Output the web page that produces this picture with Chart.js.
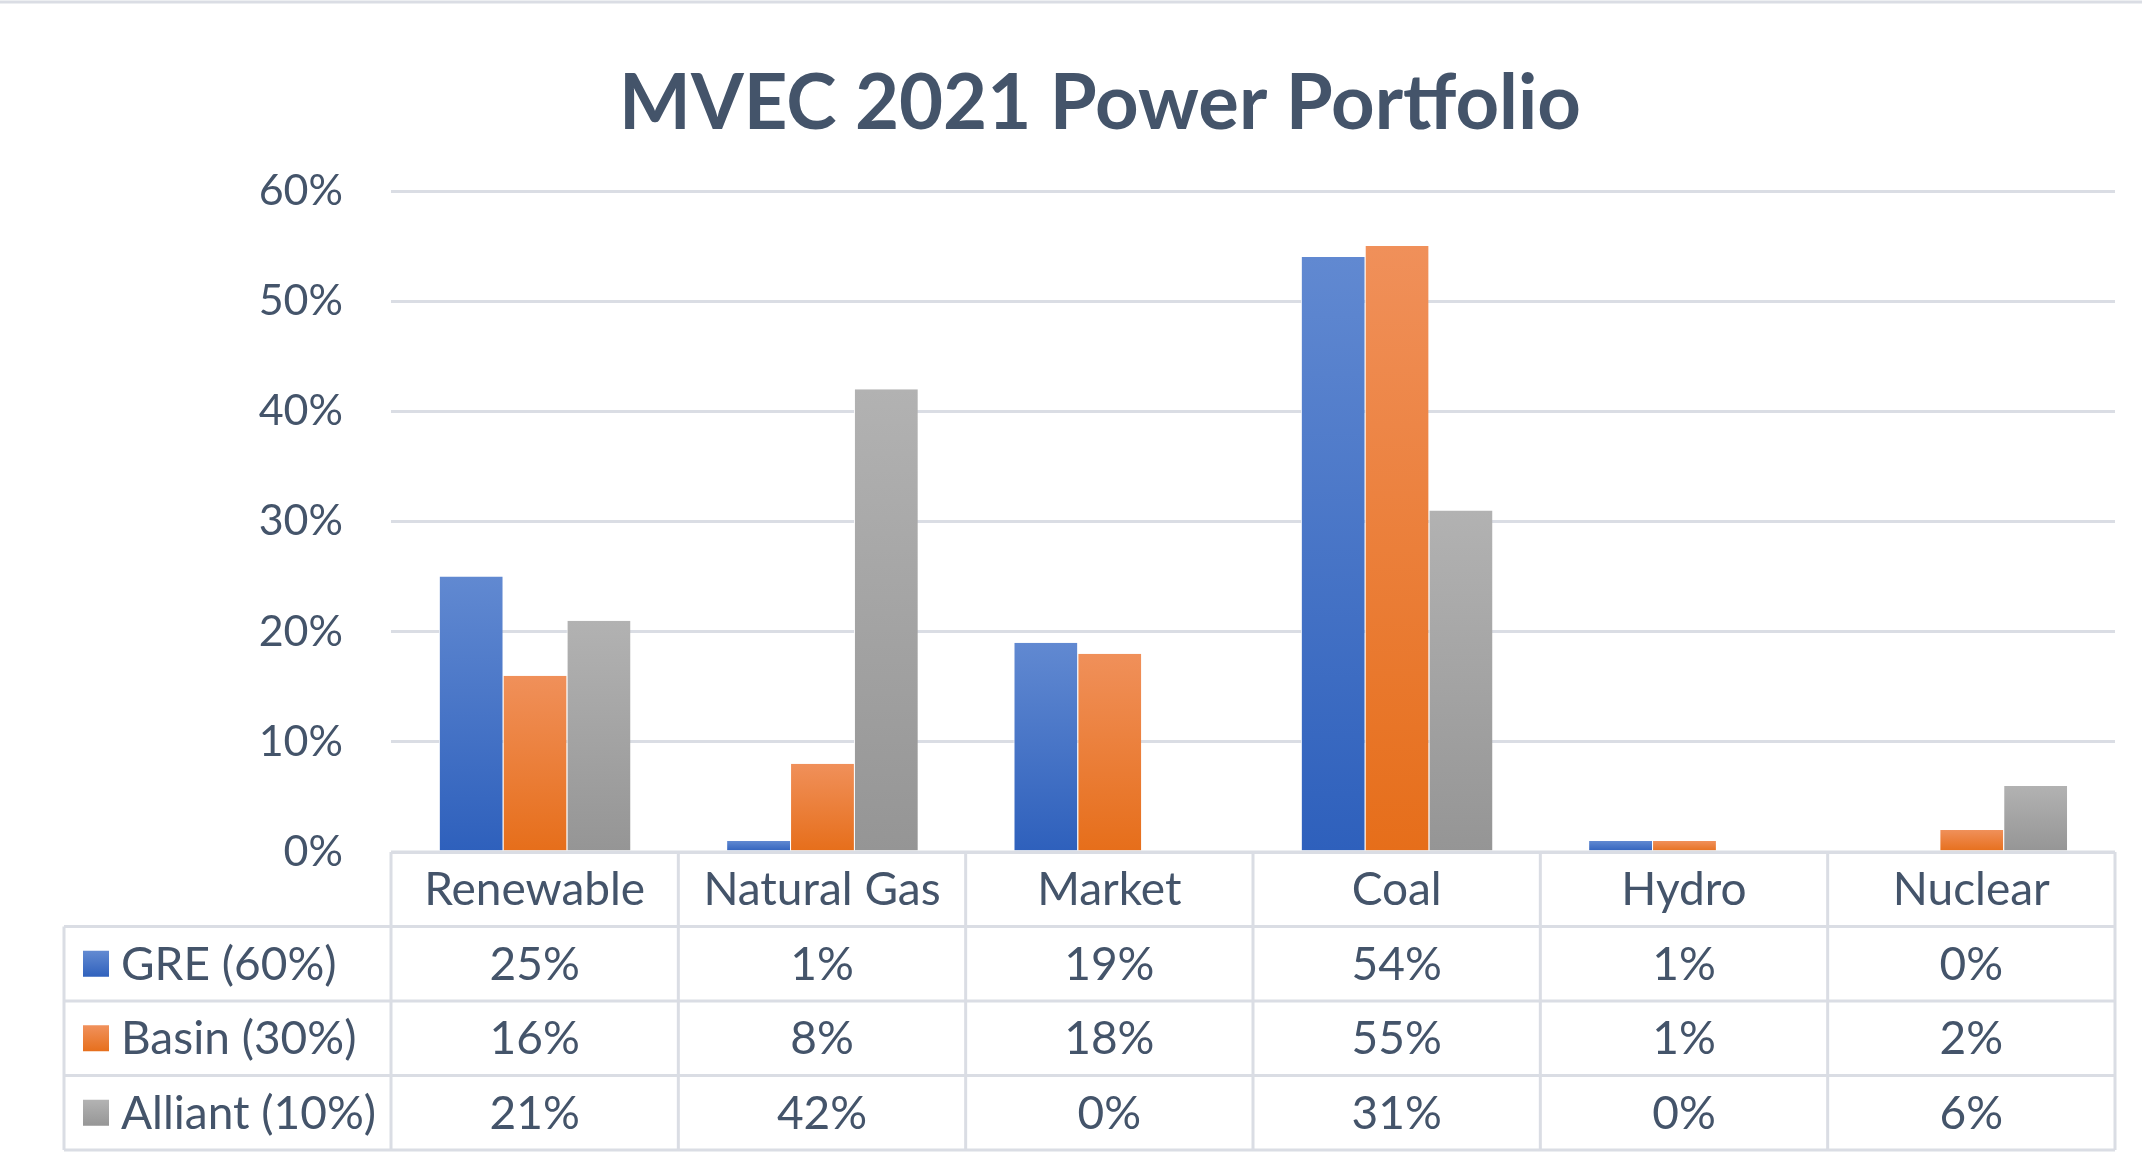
<!DOCTYPE html>
<html>
<head>
<meta charset="utf-8">
<title>MVEC 2021 Power Portfolio</title>
<script src="https://cdn.jsdelivr.net/npm/chart.js@4.4.1/dist/chart.umd.min.js"></script>
<style>
  html, body { margin: 0; padding: 0; background: #fff; }
  #wrap { width: 2142px; height: 1167px; }
</style>
</head>
<body>
<div id="wrap"><canvas id="portfolioChart" width="2142" height="1167"></canvas></div>
<script>
// datos
const chartTitle = 'MVEC 2021 Power Portfolio';
const categories = ['Renewable', 'Natural Gas', 'Market', 'Coal', 'Hydro', 'Nuclear'];
const seriesNames = ['GRE (60%)', 'Basin (30%)', 'Alliant (10%)'];
const greValues = [25, 1, 19, 54, 1, 0];
const basinValues = [16, 8, 18, 55, 1, 2];
const alliantValues = [21, 42, 0, 31, 0, 6];
const yTicks = [0, 10, 20, 30, 40, 50, 60];

const textColor = '#44546A';
const lineColor = '#DADDE4';
const fontFamily = 'Lato, "Open Sans", sans-serif';

// colores arriba / abajo para el degradado de cada barra
const seriesColors = [
  { top: '#6189D1', bottom: '#2E60BC' },
  { top: '#F0905A', bottom: '#E66E1A' },
  { top: '#B2B2B2', bottom: '#959595' }
];

function barGradient(colors) {
  return function (ctx) {
    const chart = ctx.chart;
    if (!chart.chartArea || ctx.raw === undefined) return colors.bottom;
    const y = chart.scales.y;
    const yTop = y.getPixelForValue(ctx.raw);
    const yBase = y.getPixelForValue(0);
    if (yBase - yTop < 1) return colors.bottom;
    const g = chart.ctx.createLinearGradient(0, yTop, 0, yBase);
    g.addColorStop(0, colors.top);
    g.addColorStop(1, colors.bottom);
    return g;
  };
}

// fondo, linea superior del marco y titulo
const framePlugin = {
  id: 'frame',
  beforeDraw(chart) {
    const c = chart.ctx;
    c.save();
    c.fillStyle = '#fff';
    c.fillRect(0, 0, chart.width, chart.height);
    c.strokeStyle = lineColor;
    c.lineWidth = 3;
    c.beginPath();
    c.moveTo(0, 2);
    c.lineTo(chart.width, 2);
    c.stroke();

    c.fillStyle = textColor;
    c.font = 'bold 76px ' + fontFamily;
    c.textAlign = 'center';
    c.textBaseline = 'middle';
    c.fillText(chartTitle, 1100, 104);
    c.restore();
  }
};

// tabla de datos debajo del grafico
const tablePlugin = {
  id: 'dataTable',
  afterDraw(chart) {
    const c = chart.ctx;
    const x = chart.scales.x;
    const area = chart.chartArea;
    const rowH = 74.5;
    const top = area.bottom;
    const left = 64;
    const colW = (x.right - x.left) / categories.length;
    const rows = [greValues, basinValues, alliantValues];

    c.save();
    c.strokeStyle = lineColor;
    c.lineWidth = 3;
    c.beginPath();
    // lineas horizontales
    c.moveTo(x.left, top);
    c.lineTo(x.right, top);
    for (let r = 1; r <= rows.length + 1; r++) {
      c.moveTo(left, top + r * rowH);
      c.lineTo(x.right, top + r * rowH);
    }
    // lineas verticales
    for (let i = 0; i <= categories.length; i++) {
      c.moveTo(x.left + i * colW, top);
      c.lineTo(x.left + i * colW, top + (rows.length + 1) * rowH);
    }
    c.moveTo(left, top + rowH);
    c.lineTo(left, top + (rows.length + 1) * rowH);
    c.stroke();

    c.fillStyle = textColor;
    c.font = '46px ' + fontFamily;
    c.textBaseline = 'middle';
    c.textAlign = 'center';
    categories.forEach((cat, i) => {
      c.fillText(cat, x.getPixelForValue(i), top + rowH / 2 + 1);
    });

    rows.forEach((vals, r) => {
      const yMid = top + (r + 1) * rowH + rowH / 2 + 1;
      vals.forEach((v, i) => {
        c.textAlign = 'center';
        c.fillStyle = textColor;
        c.fillText(v + '%', x.getPixelForValue(i), yMid);
      });
      // cuadro de leyenda
      const sq = 26;
      const g = c.createLinearGradient(0, yMid - sq / 2, 0, yMid + sq / 2);
      g.addColorStop(0, seriesColors[r].top);
      g.addColorStop(1, seriesColors[r].bottom);
      c.fillStyle = g;
      c.fillRect(83, yMid - sq / 2 - 1, sq, sq);
      c.textAlign = 'left';
      c.fillStyle = textColor;
      c.fillText(seriesNames[r], 121, yMid);
    });
    c.restore();
  }
};

const datasets = [greValues, basinValues, alliantValues].map((vals, i) => ({
  label: seriesNames[i],
  data: vals,
  backgroundColor: barGradient(seriesColors[i]),
  borderColor: '#ffffff',
  borderWidth: { left: 1, right: 0, top: 0, bottom: 0 },
  borderSkipped: false,
  categoryPercentage: 0.667,
  barPercentage: 1
}));

new Chart(document.getElementById('portfolioChart'), {
  type: 'bar',
  data: { labels: categories, datasets: datasets },
  options: {
    responsive: false,
    devicePixelRatio: 1,
    animation: false,
    layout: { padding: { top: 191, right: 27, bottom: 315, left: 0 } },
    plugins: {
      legend: { display: false },
      tooltip: { enabled: false },
      title: { display: false }
    },
    scales: {
      x: { display: false },
      y: {
        min: yTicks[0],
        max: yTicks[yTicks.length - 1],
        afterFit(scale) { scale.width = 391; },
        afterBuildTicks(scale) { scale.ticks = yTicks.map(v => ({ value: v })); },
        border: { display: false },
        grid: { color: lineColor, lineWidth: 3, drawTicks: false },
        ticks: {
          color: textColor,
          font: { family: fontFamily, size: 43 },
          padding: 48,
          callback: v => v + '%'
        }
      }
    }
  },
  plugins: [framePlugin, tablePlugin]
});
</script>
</body>
</html>
